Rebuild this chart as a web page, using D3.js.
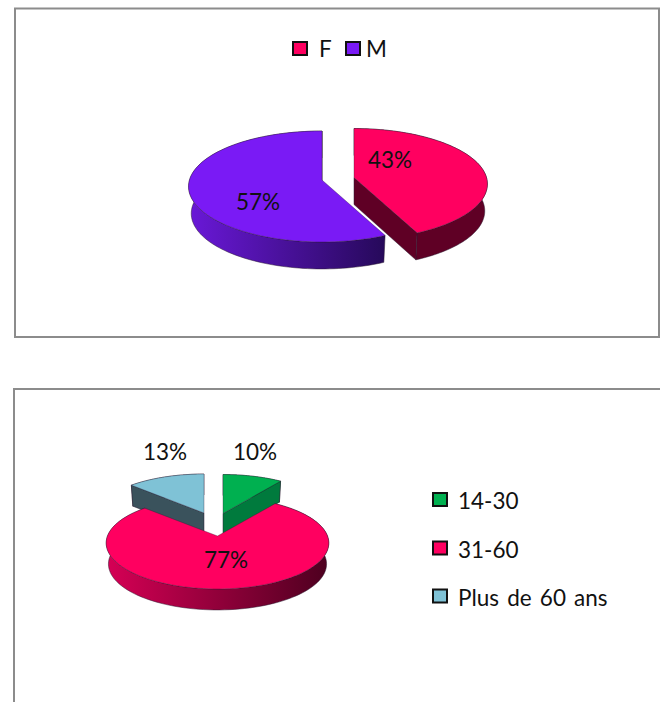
<!DOCTYPE html>
<html><head><meta charset="utf-8">
<script src="https://d3js.org/d3.v7.min.js"></script>
<style>html,body{margin:0;padding:0;background:#fff}svg{display:block}text{font-family:Lato,"Open Sans",sans-serif;fill:#111}</style>
</head><body><div id="c"></div>
<script>
const sexCategories = ["F","M"];
const sexValues = [43,57];
const sexColors = ["#ff0060","#7a1af5"];
const ageCategories = ["14-30","31-60","Plus de 60 ans"];
const ageValues = [10,77,13];
const ageColors = ["#00b050","#ff0060","#7fc2d6"];

const W=660,H=702;
const svg=d3.select("#c").append("svg").attr("width",W).attr("height",H);
const defs=svg.append("defs");
function grad(id,a,b){const g=defs.append("linearGradient").attr("id",id);
  g.append("stop").attr("offset","0%").attr("stop-color",a);
  g.append("stop").attr("offset","100%").attr("stop-color",b);return `url(#${id})`;}

// frames
svg.append("path").attr("d","M15,8.5H659V337H15Z").attr("fill","#fff").attr("stroke","#8c8c8c").attr("stroke-width",2);
svg.append("path").attr("d","M14,702V389H660").attr("fill","none").attr("stroke","#8c8c8c").attr("stroke-width",2);

const line=d3.line().x(d=>d[0]).y(d=>d[1]);
function draw3D(cfg){
  const arcs=d3.pie().sort(null).value(d=>d)(cfg.values);
  const {rx,ry,k,depth}=cfg;
  cfg.order.forEach(i=>{
    const a=arcs[i], st=cfg.slices[i];
    const proj=th=>{const u=Math.sin(th),v=-Math.cos(th),s=1/(1-k*v);return [st.cx+rx*u*s,st.cy+ry*v*s];};
    const low=p=>[st.cx+(p[0]-st.cx)*0.98,p[1]+depth];
    const ths=d3.range(0,121).map(j=>a.startAngle+(a.endAngle-a.startAngle)*j/120);
    const rim=ths.map(proj);
    const apex=[st.cx,st.cy];
    const g=svg.append("g");
    g.append("path").attr("d",line(rim.concat(rim.map(low).reverse()))+"Z")
      .attr("fill",st.rim).attr("stroke","#2a1a30").attr("stroke-opacity",.7).attr("stroke-width",.7);
    st.walls.forEach(w=>{
      const end=w==="start"?rim[0]:rim[rim.length-1];
      g.append("path").attr("d",line([apex,end,low(end),low(apex)])+"Z")
        .attr("fill",st.wall).attr("stroke","#2a1a30").attr("stroke-opacity",.7).attr("stroke-width",.7);
    });
    g.append("path").attr("d",line([apex].concat(rim))+"Z")
      .attr("fill",cfg.colors[i]).attr("stroke","#2a1a30").attr("stroke-opacity",.55).attr("stroke-width",.6);
  });
  cfg.labels.forEach((l,i)=>{
    svg.append("text").attr("x",l[0]).attr("y",l[1]).attr("text-anchor","middle")
      .attr("font-size",22.5).text(cfg.values[i]+"%");
  });
}

draw3D({values:sexValues,colors:sexColors,rx:132.5,ry:54.7,k:.117,depth:27,order:[1,0],
  slices:[
    {cx:354,cy:177.5,rim:"#5f0025",wall:"#5f0025",walls:["end"]},
    {cx:322,cy:180,rim:grad("gM","#6a18d8","#26095a"),wall:"#3a1090",walls:["end"]}
  ],
  labels:[[390,168],[258,210]]});

draw3D({values:ageValues,colors:ageColors,rx:110,ry:44.9,k:.152,depth:21,order:[0,2,1],
  slices:[
    {cx:223,cy:513.5,rim:"#007a3d",wall:"#007a3d",walls:["end"]},
    {cx:217.5,cy:536,rim:grad("gA","#d60055","#4d001f"),wall:"#a00040",walls:[]},
    {cx:204,cy:513,rim:"#3a525c",wall:"#3a525c",walls:["start"]}
  ],
  labels:[[255,460],[226,568],[165,460]]});

function legend(names,colors,pos){
  const g=svg.append("g").selectAll("g").data(names).join("g")
    .attr("transform",(d,i)=>`translate(${pos[i][0]},${pos[i][1]})`);
  g.append("rect").attr("x",1).attr("y",-15).attr("width",14).attr("height",13)
    .attr("fill",(d,i)=>colors[i]).attr("stroke","#111").attr("stroke-width",2);
  g.append("text").attr("x",(d,i)=>pos[i][2]).attr("y",(d,i)=>pos[i][3])
    .attr("font-size",22.5).attr("word-spacing",2.4).text(d=>d);
}
legend(sexCategories,sexColors,[[292,57,27,0],[345,57,21,0]]);
legend(ageCategories,ageColors,[[432,508,26,1],[432,556.5,26,1],[432,604.5,26,1]]);
</script></body></html>
